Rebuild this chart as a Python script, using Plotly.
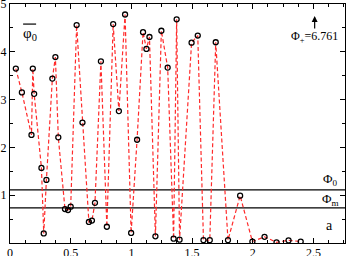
import plotly.graph_objects as go

x_vals = [0.048, 0.098, 0.177, 0.188, 0.199, 0.259, 0.278, 0.300, 0.349, 0.374,
          0.398, 0.453, 0.478, 0.500, 0.549, 0.597, 0.650, 0.675, 0.700, 0.749,
          0.798, 0.850, 0.897, 0.948, 0.998, 1.047, 1.096, 1.124, 1.149, 1.198,
          1.247, 1.299, 1.348, 1.373, 1.397, 1.496, 1.547, 1.594, 1.646, 1.695,
          1.796, 1.896, 1.997, 2.097, 2.196, 2.295, 2.395]
y_vals = [3.65, 3.15, 2.26, 3.65, 3.12, 1.57, 0.20, 1.32, 3.44, 3.89,
          2.21, 0.71, 0.69, 0.76, 4.56, 2.52, 0.44, 0.47, 0.84, 3.80,
          0.34, 4.58, 2.76, 4.78, 0.21, 2.16, 4.41, 4.06, 4.31, 0.14,
          4.44, 3.67, 0.09, 4.68, 0.07, 4.19, 4.34, 0.06, 0.06, 4.20,
          0.06, 0.99, 0.03, 0.13, 0.015, 0.056, 0.03]

phi0_level = 1.11
phim_level = 0.735
x_range = [0, 2.76]
y_range = [0, 5]
x_ticks = [0, 0.5, 1, 1.5, 2, 2.5]
x_tick_text = ["0", "0.5", "1", "1.5", "2", "2.5"]
y_ticks = [1, 2, 3, 4, 5]
y_tick_text = ["1", "2", "3", "4", "5"]

FONT = "Liberation Serif, Times New Roman, serif"

fig = go.Figure()
for lvl in [phi0_level, phim_level]:
    fig.add_trace(go.Scatter(x=x_range, y=[lvl, lvl], mode="lines",
                             line=dict(color="black", width=1.2),
                             hoverinfo="skip", showlegend=False))

fig.add_trace(go.Scatter(
    x=x_vals, y=y_vals, mode="lines+markers",
    line=dict(color="#ff2a2a", width=1.2, dash="4px,2.5px"),
    marker=dict(symbol="circle-open", size=5, color="black", line=dict(width=1.3)),
    showlegend=False))

axis_common = dict(showline=True, linecolor="black", linewidth=1.2, mirror="allticks",
                   ticks="inside", ticklen=5, tickwidth=1, tickcolor="black",
                   showgrid=False, zeroline=False, automargin=False,
                   ticklabeloverflow="allow",
                   tickfont=dict(family=FONT, size=12, color="black"))

fig.update_xaxes(range=x_range, tickvals=x_ticks, ticktext=x_tick_text,
                 ticklabelstandoff=-2,
                 minor=dict(dtick=0.125, tick0=0, ticks="inside", ticklen=3,
                            tickcolor="black", showgrid=False),
                 **axis_common)
fig.update_yaxes(range=y_range, tickvals=y_ticks, ticktext=y_tick_text,
                 minor=dict(dtick=0.5, tick0=0, ticks="inside", ticklen=3,
                            tickcolor="black", showgrid=False),
                 **axis_common)

fig.add_annotation(x=0.165, y=4.38, text="φ<sub>0</sub>", showarrow=False,
                   font=dict(family=FONT, size=15, color="black"))
fig.add_shape(type="line", x0=0.108, x1=0.215, y0=4.58, y1=4.58, xref="x", yref="y",
              line=dict(color="black", width=1.2))
# arrow and its label
fig.add_annotation(x=2.51, y=4.75, ax=2.51, ay=4.455, axref="x", ayref="y",
                   text="", showarrow=True, arrowhead=2, arrowsize=1, arrowwidth=1.2,
                   arrowcolor="black")
fig.add_annotation(x=2.51, y=4.31, text="Φ<sub>+</sub>=6.761", showarrow=False,
                   font=dict(family=FONT, size=12, color="black"))
fig.add_annotation(x=2.64, y=1.32, text="Φ<sub>0</sub>", showarrow=False,
                   font=dict(family=FONT, size=13, color="black"))
fig.add_annotation(x=2.64, y=0.91, text="Φ<sub>m</sub>", showarrow=False,
                   font=dict(family=FONT, size=13, color="black"))
fig.add_annotation(x=2.63, y=0.37, text="a", showarrow=False,
                   font=dict(family=FONT, size=14, color="black"))

fig.update_layout(width=352, height=256, margin=dict(l=10, r=7, t=4, b=13),
                  paper_bgcolor="white", plot_bgcolor="white")

fig.write_html("out.html", config={"displayModeBar": False},
               post_script="document.body.style.margin='0px';document.body.style.overflow='hidden';")
